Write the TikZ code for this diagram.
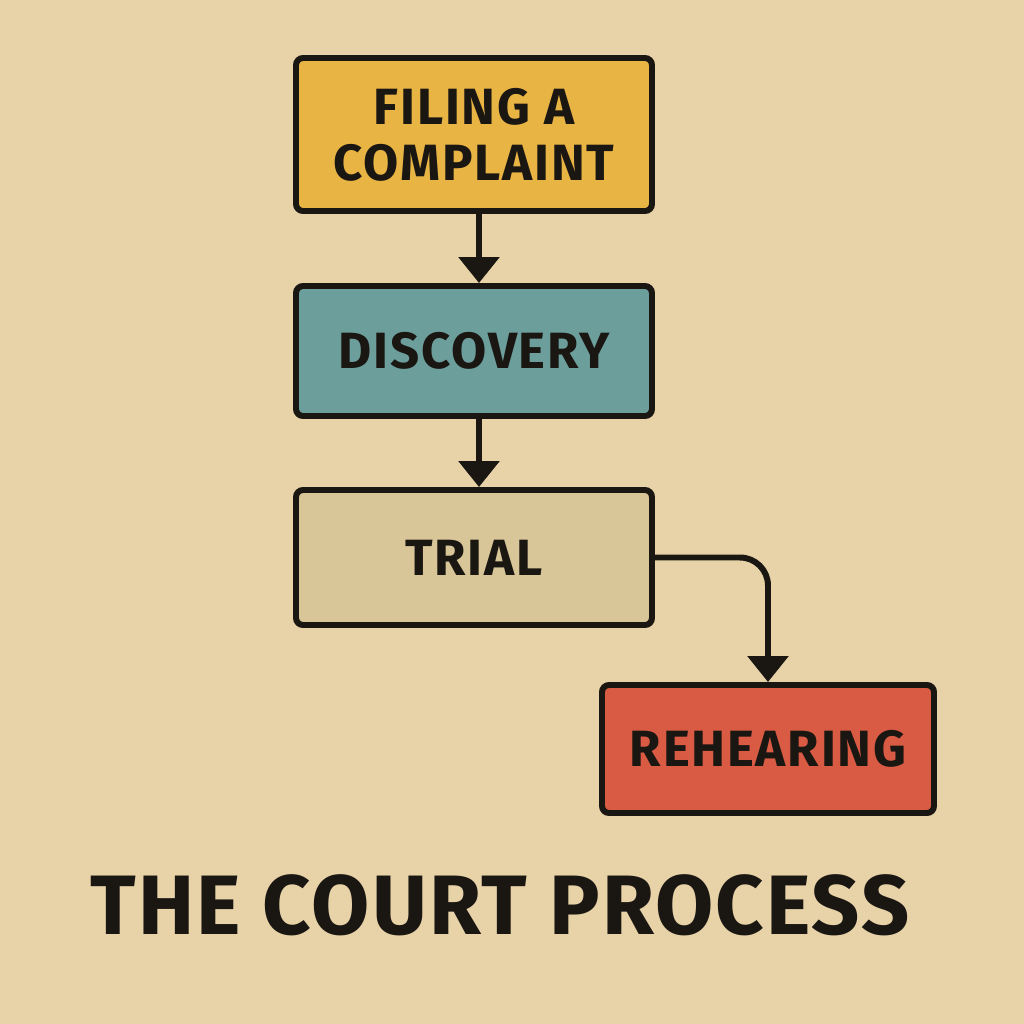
\documentclass[tikz,border=0pt]{standalone}
\usepackage{fontspec}
\setmainfont{Fira Sans}
\usetikzlibrary{arrows.meta, positioning}

\definecolor{paper}{HTML}{E8D3A9}
\definecolor{ink}{HTML}{1A1612}
\definecolor{filingcol}{HTML}{E8B444}
\definecolor{discocol}{HTML}{6C9E9C}
\definecolor{trialcol}{HTML}{D8C598}
\definecolor{rehearcol}{HTML}{D95B43}

\tikzset{
    stage/.style={draw=ink, line width=1.7pt, rounded corners=2pt,
        minimum width=3.56cm, align=center, text=ink,
        font=\bfseries\fontsize{14.5}{17}\selectfont\addfontfeatures{LetterSpace=3.5}},
    flow/.style={draw=ink, line width=1.7pt,
        -{Triangle[width=0.4cm, length=0.26cm]}}
}

\begin{document}
\begin{tikzpicture}
        % the paper behind everything
        \fill[paper] (0,0) rectangle (10.24,-10.24);
        \useasboundingbox (0,0) rectangle (10.24,-10.24);

        % the four stages of the process
        \node[stage, fill=filingcol, minimum height=1.53cm] (filing) at (4.74,-1.345) {FILING A\\[-1pt]COMPLAINT};
        \node[stage, fill=discocol, minimum height=1.30cm] (discovery) at (4.74,-3.51) {DISCOVERY};
        \node[stage, fill=trialcol, minimum height=1.35cm] (trial) at (4.74,-5.575) {TRIAL};
        \node[stage, fill=rehearcol, minimum width=3.32cm, minimum height=1.28cm] (rehearing) at (7.68,-7.49) {REHEARING};

        % arrows down the column
        \draw[flow] ([xshift=0.05cm]filing.south) -- ([xshift=0.05cm]discovery.north);
        \draw[flow] ([xshift=0.05cm]discovery.south) -- ([xshift=0.05cm]trial.north);

        % the bent arrow from trial to rehearing
        \draw[flow, rounded corners=0.28cm] (trial.east) -| (rehearing.north);

        % the title under the boxes
        \node[text=ink, font=\bfseries\fontsize{24}{28}\selectfont\addfontfeatures{LetterSpace=2.5}] (title) at (5.0,-9.05) {THE COURT PROCESS};
    \end{tikzpicture}
\end{document}
